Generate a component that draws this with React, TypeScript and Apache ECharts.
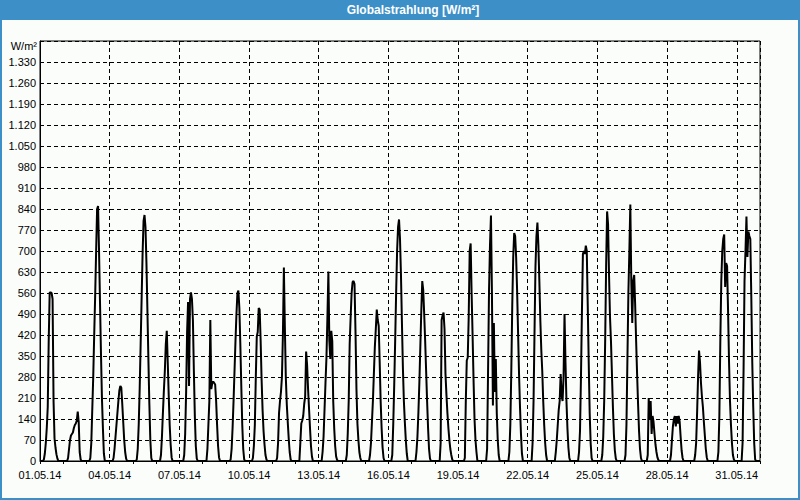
import React, { useEffect, useRef } from "react";
import * as echarts from "echarts";

// Hourly global radiation [W/m²] per day, hours 03:00 … 22:00 (other hours are night = 0)
const firstHour = 3;
const may01 = [0, 5, 25, 60, 110, 180, 400, 562, 562, 560, 540, 200, 75, 45, 22, 8, 0, 0, 0, 0];
const may02 = [0, 0, 10, 40, 70, 85, 90, 95, 110, 120, 125, 135, 165, 130, 30, 5, 0, 0, 0, 0];
const may03 = [0, 10, 60, 170, 280, 420, 550, 700, 840, 850, 700, 530, 360, 210, 110, 25, 0, 0, 0, 0];
const may04 = [0, 10, 40, 80, 120, 160, 200, 235, 250, 245, 190, 130, 70, 30, 8, 0, 0, 0, 0, 0];
const may05 = [0, 5, 40, 120, 240, 390, 540, 690, 800, 820, 780, 660, 500, 340, 190, 70, 10, 0, 0, 0];
const may06 = [0, 0, 20, 80, 160, 234, 300, 390, 434, 330, 220, 120, 55, 12, 0, 0, 0, 0, 0, 0];
const may07 = [0, 0, 20, 90, 230, 430, 530, 250, 540, 562, 540, 470, 300, 150, 50, 8, 0, 0, 0, 0];
const may08 = [0, 0, 40, 120, 200, 470, 240, 260, 265, 260, 255, 200, 120, 50, 12, 0, 0, 0, 0, 0];
const may09 = [0, 0, 5, 40, 110, 200, 300, 400, 490, 560, 568, 510, 390, 250, 120, 40, 5, 0, 0, 0];
const may10 = [0, 10, 50, 120, 280, 415, 430, 510, 505, 400, 270, 170, 100, 55, 20, 5, 0, 0, 0, 0];
const may11 = [0, 0, 10, 60, 160, 200, 230, 280, 420, 645, 450, 280, 190, 130, 75, 30, 5, 0, 0, 0];
const may12 = [0, 0, 60, 125, 135, 150, 190, 215, 365, 320, 240, 175, 110, 50, 15, 0, 0, 0, 0, 0];
const may13 = [0, 30, 80, 170, 260, 345, 480, 632, 400, 340, 434, 400, 200, 110, 50, 15, 3, 0, 0, 0];
const may14 = [0, 0, 20, 90, 200, 390, 480, 560, 596, 600, 590, 434, 240, 125, 70, 30, 10, 0, 0, 0];
const may15 = [0, 0, 20, 60, 130, 200, 290, 380, 440, 505, 470, 450, 330, 200, 110, 45, 10, 0, 0, 0];
const may16 = [0, 20, 120, 250, 400, 560, 700, 780, 805, 740, 620, 460, 310, 200, 130, 70, 25, 0, 0, 0];
const may17 = [0, 0, 30, 80, 160, 260, 380, 500, 600, 570, 490, 400, 300, 200, 110, 40, 8, 0, 0, 0];
const may18 = [0, 0, 0, 60, 470, 485, 495, 440, 290, 220, 160, 110, 70, 40, 20, 5, 0, 0, 0, 0];
const may19 = [0, 0, 0, 0, 10, 200, 335, 345, 480, 700, 725, 560, 420, 270, 140, 70, 30, 0, 0, 0];
const may20 = [0, 0, 0, 40, 300, 570, 720, 818, 560, 185, 460, 230, 340, 160, 70, 20, 0, 0, 0, 0];
const may21 = [0, 0, 30, 120, 300, 520, 680, 760, 750, 680, 570, 430, 290, 180, 90, 25, 0, 0, 0, 0];
const may22 = [0, 0, 60, 200, 430, 650, 750, 795, 720, 600, 470, 370, 300, 200, 120, 60, 20, 0, 0, 0];
const may23 = [0, 0, 30, 70, 120, 170, 200, 290, 220, 200, 280, 490, 330, 200, 110, 45, 10, 0, 0, 0];
const may24 = [0, 0, 30, 100, 280, 500, 690, 700, 690, 718, 700, 520, 330, 160, 60, 10, 0, 0, 0, 0];
const may25 = [0, 0, 20, 80, 200, 400, 650, 832, 790, 620, 480, 400, 290, 180, 90, 35, 8, 0, 0, 0];
const may26 = [0, 0, 20, 120, 340, 560, 700, 855, 600, 460, 600, 620, 520, 400, 290, 190, 100, 40, 10, 0];
const may27 = [0, 20, 210, 140, 200, 90, 150, 130, 90, 55, 30, 12, 3, 0, 0, 0, 0, 0, 0, 0];
const may28 = [0, 20, 70, 115, 140, 150, 115, 150, 125, 150, 130, 80, 35, 10, 0, 0, 0, 0, 0, 0];
const may29 = [0, 0, 20, 60, 160, 280, 368, 330, 260, 215, 180, 130, 85, 40, 12, 0, 0, 0, 0, 0];
const may30 = [0, 0, 30, 150, 400, 600, 700, 740, 755, 580, 660, 650, 500, 330, 200, 120, 60, 20, 5, 0];
const may31 = [0, 0, 0, 60, 300, 600, 700, 815, 680, 765, 750, 740, 550, 330, 180, 60, 5, 0, 0, 0];

const dailyValues = [
  may01, may02, may03, may04, may05, may06, may07, may08, may09, may10,
  may11, may12, may13, may14, may15, may16, may17, may18, may19, may20,
  may21, may22, may23, may24, may25, may26, may27, may28, may29, may30, may31,
];

const monthSuffix = ".05.14";
const yMin = 0;
const yMax = 1400;
const yStep = 70;
const labelEveryHours = 72;
const tickEveryHours = 24;
const titleText = "Globalstrahlung [W/m²]";
const unitText = "W/m²";

const BLUE = "#3d8fc7";
const FONT = "Liberation Sans";

function fmtThousands(v: number): string {
  if (v >= 1000) {
    const th = Math.floor(v / 1000);
    const rest = String(v % 1000).padStart(3, "0");
    return `${th}.${rest}`;
  }
  return String(v);
}

export default function App() {
  const ref = useRef<HTMLDivElement>(null);

  useEffect(() => {
    if (!ref.current) return;
    const chart = echarts.init(ref.current, null, { renderer: "svg" });

    const points: [number, number][] = [];
    dailyValues.forEach((vals, d) => {
      for (let h = 0; h < 24; h++) {
        const i = h - firstHour;
        points.push([d * 24 + h, i >= 0 && i < vals.length ? vals[i] : 0]);
      }
    });
    const totalHours = dailyValues.length * 24;
    points.push([totalHours, 0]);

    const dashed = { color: "#000", width: 1, type: [4, 3] as number[] };

    chart.setOption({
      animation: false,
      backgroundColor: "#fbfdfb",
      textStyle: { fontFamily: FONT },
      grid: {
        left: 40,
        right: 40,
        top: 41,
        bottom: 39,
        show: true,
        borderColor: "#000",
        borderWidth: 1,
        backgroundColor: "transparent",
      },
      xAxis: [
        {
          type: "value",
          min: 0,
          max: totalHours,
          interval: labelEveryHours,
          axisLine: { show: true, lineStyle: { color: "#000", width: 1 } },
          axisTick: { show: false },
          axisLabel: {
            color: "#000",
            fontSize: 11,
            fontFamily: FONT,
            margin: 8,
            showMaxLabel: false,
            formatter: (v: number) => {
              if (v >= totalHours) return "";
              const day = Math.round(v / 24) + 1;
              return `${String(day).padStart(2, "0")}${monthSuffix}`;
            },
          },
          splitLine: { show: true, lineStyle: dashed },
        },
        {
          type: "value",
          min: 0,
          max: totalHours,
          interval: tickEveryHours,
          position: "bottom",
          axisLine: { show: false },
          axisLabel: { show: false },
          splitLine: { show: false },
          axisTick: { show: true, length: 3, lineStyle: { color: "#000", width: 1 } },
        },
      ],
      yAxis: {
        type: "value",
        min: yMin,
        max: yMax,
        interval: yStep,
        axisLine: { show: true, lineStyle: { color: "#000", width: 1 } },
        axisTick: { show: false },
        axisLabel: {
          color: "#000",
          fontSize: 11,
          fontFamily: FONT,
          margin: 4,
          formatter: (v: number) => (v >= yMax ? "" : fmtThousands(v)),
        },
        splitLine: { show: true, lineStyle: dashed },
      },
      series: [
        {
          type: "line",
          data: points,
          xAxisIndex: 0,
          yAxisIndex: 0,
          showSymbol: false,
          symbol: "none",
          lineStyle: { color: "#000", width: 2 },
          z: 5,
        },
      ],
      graphic: [
        {
          type: "rect",
          shape: { x: 0, y: 0, width: 800, height: 20 },
          style: { fill: BLUE },
          z: 10,
        },
        {
          type: "text",
          x: 413,
          y: 10,
          style: {
            text: titleText,
            fill: "#fff",
            font: `bold 12px "${FONT}"`,
            align: "center",
            verticalAlign: "middle",
          },
          z: 11,
        },
        {
          type: "text",
          x: 37,
          y: 46,
          style: {
            text: unitText,
            fill: "#000",
            font: `11px "${FONT}"`,
            align: "right",
            verticalAlign: "middle",
          },
          z: 11,
        },
        {
          type: "rect",
          shape: { x: 1, y: 1, width: 798, height: 498 },
          style: { fill: "none", stroke: BLUE, lineWidth: 2 },
          z: 12,
        },
      ],
    });

    return () => chart.dispose();
  }, []);

  return (
    <div
      ref={ref}
      style={{ position: "fixed", left: 0, top: 0, width: 800, height: 500 }}
    />
  );
}
